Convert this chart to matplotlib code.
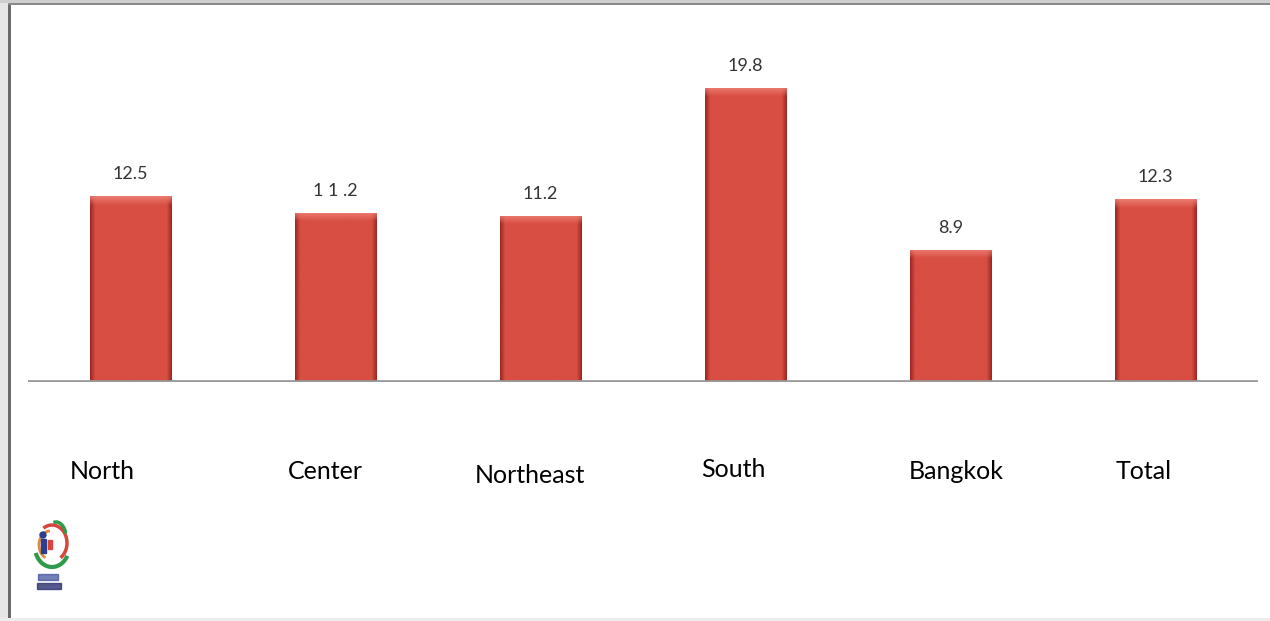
import numpy as np
import matplotlib.pyplot as plt
from matplotlib.patches import Rectangle, Arc, Circle

regions = ['North', 'Center', 'Northeast', 'South', 'Bangkok', 'Total']
values = [12.5, 11.4, 11.2, 19.8, 8.9, 12.3]
value_labels = ['12.5', '1 1 .2', '11.2', '19.8', '8.9', '12.3']

# label placement (pixels from bar centre / baseline), like the original slide
label_dx = [-28, -10, -11, -12, 6, -12]
label_dy = [97, 97, 101, 95, 97, 97]

W, H = 1270, 621
fig = plt.figure(figsize=(W / 100, H / 100), dpi=100)
fig.patch.set_facecolor('white')

# window-like frame
fig.add_artist(Rectangle((0, 0), 8 / W, 1, transform=fig.transFigure, color='#e6e6e6', lw=0))
fig.add_artist(Rectangle((8 / W, 0), 2.5 / W, 1, transform=fig.transFigure, color='#6a6a6a', lw=0))
fig.add_artist(Rectangle((0, 1 - 3 / H), 1, 3 / H, transform=fig.transFigure, color='#cfcfcf', lw=0))
fig.add_artist(Rectangle((8 / W, 1 - 5 / H), 1, 2 / H, transform=fig.transFigure, color='#8a8a8a', lw=0))
fig.add_artist(Rectangle((0, 0), 1, 3 / H, transform=fig.transFigure, color='#ececec', lw=0))

ax = fig.add_axes([28 / W, (H - 382) / H, 1230 / W, (382 - 55.3) / H])
ax.set_xlim(-0.5, 5.5)
ax.set_ylim(0, 22)
ax.axis('off')

x = np.arange(len(regions))
bars = ax.bar(x, values, width=0.4, color='#d44a3f', zorder=2)

# shaded fill for each bar: darker sides, lighter bevel at the top
edge = np.array([160, 40, 36]) / 255
body = np.array([216, 78, 66]) / 255
bevel = np.array([240, 130, 120]) / 255
t = np.linspace(0, 1, 80)
side = np.clip(np.minimum(t, 1 - t) / 0.06, 0, 1)
for b in bars:
    h = b.get_height()
    nrows = 300
    rows = np.linspace(1, 0, nrows) * h  # top to bottom in data units
    depth = (h - rows) / 0.6
    top = np.clip(1 - depth, 0, 1)[:, None, None]
    col = edge + (body - edge) * side[None, :, None]
    col = col * (1 - top * 0.85) + bevel * top * 0.85
    col = np.broadcast_to(col, (nrows, len(t), 3))
    im = ax.imshow(col, extent=(b.get_x(), b.get_x() + b.get_width(), 0, h),
                   aspect='auto', zorder=3, interpolation='bilinear')
    im.set_clip_path(b)

ax.set_xlim(-0.5, 5.5)
ax.set_ylim(0, 22)

ax.axhline(0, color='#999999', lw=3.4, zorder=4)

for xi, v, lab in zip(x, values, value_labels):
    ax.annotate(lab, (xi, v), xytext=(0, 12.3), textcoords='offset points',
                ha='center', va='baseline', fontsize=13, family='Lato',
                color='#333333')

for xi, name, dx, dy in zip(x, regions, label_dx, label_dy):
    ax.annotate(name, (xi, 0), xytext=(dx * 0.72, -dy * 0.72), textcoords='offset points',
                ha='center', va='baseline', fontsize=18, family='Lato',
                color='black', annotation_clip=False)

# small logo in the corner
lax = fig.add_axes([28 / W, 14 / H, 56 / W, 100 / H])
lax.set_xlim(0, 56)
lax.set_ylim(0, 100)
lax.axis('off')
lax.add_patch(Arc((24, 60), 34, 40, theta1=200, theta2=330, color='#2f9a4a', lw=3))
lax.add_patch(Arc((24, 64), 30, 36, theta1=-60, theta2=120, color='#d9443b', lw=2.5))
lax.add_patch(Arc((22, 62), 22, 28, theta1=90, theta2=250, color='#e08a3a', lw=2))
lax.add_patch(Arc((28, 70), 20, 30, theta1=20, theta2=100, color='#2f9a4a', lw=2.5))
lax.add_patch(Circle((15, 72), 3, color='#2c3e8f'))
lax.add_patch(Rectangle((12.5, 54), 5, 14, color='#2c3e8f'))
lax.add_patch(Rectangle((20, 58), 4, 9, color='#d9443b'))
lax.add_patch(Rectangle((10, 27), 20, 6, color='#3b4a9a', alpha=0.7))
lax.add_patch(Rectangle((9, 18), 24, 6, color='#2c3070', alpha=0.8))

fig.savefig('out.png', dpi=100)
